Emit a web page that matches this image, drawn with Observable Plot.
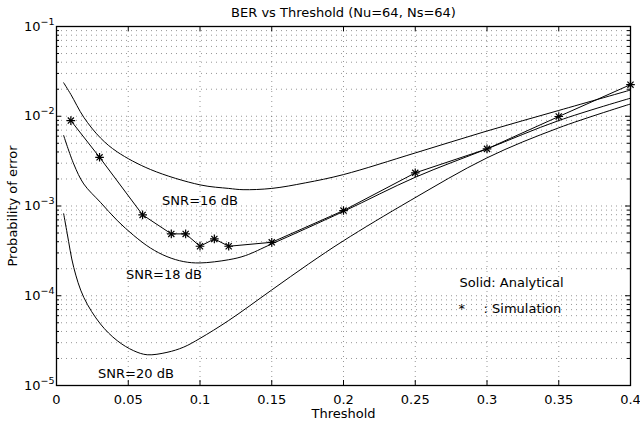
<!DOCTYPE html>
<html><head><meta charset="utf-8">
<script src="https://cdn.jsdelivr.net/npm/d3@7"></script>
<script src="https://cdn.jsdelivr.net/npm/@observablehq/plot@0.6"></script>
<style>body{margin:0;background:#fff;} svg{display:block;}</style>
</head><body><div id="chart"></div>
<script>
const title = "BER vs Threshold (Nu=64, Ns=64)";
const xLabel = "Threshold";
const yLabel = "Probability of error";
const xTicks = [0, 0.05, 0.1, 0.15, 0.2, 0.25, 0.3, 0.35, 0.4];
const yTicks = [1e-5, 1e-4, 1e-3, 1e-2, 1e-1];

// Analytical curves (solid)
const x16 = [0.005, 0.01, 0.019, 0.0306, 0.0423, 0.0655, 0.1, 0.12, 0.13, 0.15, 0.1734, 0.2, 0.25, 0.3, 0.35, 0.4];
const ber16 = [2.36e-2, 1.75e-2, 9.75e-3, 5.74e-3, 4.01e-3, 2.55e-3, 1.72e-3, 1.57e-3, 1.52e-3, 1.57e-3, 1.81e-3, 2.24e-3, 3.9e-3, 6.85e-3, 1.16e-2, 1.96e-2];
const x18 = [0.005, 0.012, 0.019, 0.0306, 0.0423, 0.0538, 0.0655, 0.077, 0.0887, 0.1, 0.12, 0.1316, 0.15, 0.2, 0.25, 0.3, 0.35, 0.4];
const ber18 = [6.1e-3, 2.94e-3, 1.76e-3, 1.1e-3, 6.9e-4, 4.7e-4, 3.4e-4, 2.73e-4, 2.4e-4, 2.32e-4, 2.52e-4, 2.8e-4, 3.78e-4, 8.7e-4, 2.09e-3, 4.33e-3, 8.95e-3, 1.59e-2];
const x20 = [0.005, 0.0075, 0.012, 0.019, 0.0306, 0.0423, 0.0538, 0.0632, 0.077, 0.0887, 0.1, 0.12, 0.15, 0.1757, 0.2, 0.2465, 0.3, 0.35, 0.4];
const ber20 = [8.2e-4, 4.9e-4, 2.07e-4, 9.6e-5, 4.85e-5, 3.16e-5, 2.44e-5, 2.2e-5, 2.34e-5, 2.68e-5, 3.35e-5, 5.3e-5, 1.16e-4, 2.26e-4, 4.1e-4, 1.15e-3, 3.44e-3, 7.43e-3, 1.37e-2];

// Simulation (asterisks)
const simX = [0.01, 0.03, 0.06, 0.08, 0.09, 0.10, 0.11, 0.12, 0.15, 0.20, 0.25, 0.30, 0.35, 0.40];
const simBer = [8.95e-3, 3.49e-3, 7.96e-4, 4.89e-4, 4.89e-4, 3.56e-4, 4.3e-4, 3.56e-4, 3.94e-4, 8.9e-4, 2.34e-3, 4.33e-3, 9.93e-3, 2.25e-2];

// Annotations
const annoText = ["SNR=16 dB", "SNR=18 dB", "SNR=20 dB", "Solid: Analytical", "*", ": Simulation"];
const annoX = [0.0736, 0.0485, 0.029, 0.2809, 0.2802, 0.2976];
const annoY = [1.15e-3, 1.71e-4, 1.36e-5, 1.41e-4, 7.13e-5, 7.13e-5];

const W = 640, H = 421, mL = 56, mR = 10, mT = 26, mB = 36;
const innerW = W - mL - mR, innerH = H - mT - mB;

const analytical = [[x16, ber16, "16"], [x18, ber18, "18"], [x20, ber20, "20"]]
  .flatMap(([xs, ys, s]) => xs.map((x, i) => ({x, y: ys[i], snr: s})));
const sim = simX.map((x, i) => ({x, y: simBer[i]}));
const anno = annoText.map((t, i) => ({t, x: annoX[i], y: annoY[i]}));

const yDomain = [1e-5, 1e-1];
const yAll = d3.scaleLog().domain(yDomain).ticks();
const yGrid = yAll.filter(v => v > yDomain[0] * 1.001 && v < yDomain[1] * 0.999);
const yMinor = yAll.filter(v => !yTicks.some(t => Math.abs(t - v) / t < 1e-6));
const xGrid = xTicks.slice(1, -1);

const grid = {stroke: "#444", strokeWidth: 0.8, strokeDasharray: "1,4", strokeOpacity: 0.7};

const chart = Plot.plot({
  width: W, height: H,
  marginLeft: mL, marginRight: mR, marginTop: mT, marginBottom: mB,
  style: {fontFamily: "DejaVu Sans", fontSize: "13px", background: "#fff", color: "#000"},
  x: {domain: [0, 0.4]},
  y: {type: "log", domain: yDomain},
  marks: [
    Plot.ruleY(yGrid, {y: d => d, ...grid}),
    Plot.ruleX(xGrid, {x: d => d, ...grid}),
    // inward tick marks
    Plot.ruleX(xTicks, {x: d => d, insetTop: innerH - 5, stroke: "#000"}),
    Plot.ruleX(xTicks, {x: d => d, insetBottom: innerH - 5, stroke: "#000"}),
    Plot.ruleY(yTicks, {y: d => d, insetRight: innerW - 5, stroke: "#000"}),
    Plot.ruleY(yTicks, {y: d => d, insetLeft: innerW - 5, stroke: "#000"}),
    Plot.ruleY(yMinor, {y: d => d, insetRight: innerW - 3, stroke: "#000"}),
    Plot.ruleY(yMinor, {y: d => d, insetLeft: innerW - 3, stroke: "#000"}),
    Plot.frame({stroke: "#000", strokeWidth: 1.3}),
    Plot.line(analytical, {x: "x", y: "y", z: "snr", stroke: "#000", strokeWidth: 1, curve: "catmull-rom"}),
    Plot.line(sim, {x: "x", y: "y", stroke: "#000", strokeWidth: 1}),
    Plot.dot(sim, {x: "x", y: "y", symbol: "plus", r: 2.9, stroke: "#000", strokeWidth: 1.2}),
    Plot.dot(sim, {x: "x", y: "y", symbol: "times", r: 2.9, stroke: "#000", strokeWidth: 1.2}),
    Plot.text(anno, {x: "x", y: "y", text: "t", textAnchor: "start", lineAnchor: "middle", fill: "#000"}),
    Plot.text([title], {frameAnchor: "top", lineAnchor: "middle", dy: -13.7, fill: "#000"}),
    Plot.text([xLabel], {frameAnchor: "bottom", lineAnchor: "middle", dy: 28.5, fill: "#000"}),
    Plot.text([yLabel], {frameAnchor: "left", rotate: -90, textAnchor: "middle", lineAnchor: "middle", dx: -43.5, fill: "#000"}),
    Plot.axisX({ticks: xTicks, tickSize: 0, tickPadding: 9, tickFormat: d3.format("~g"), label: null}),
    Plot.axisY({ticks: yTicks, tickSize: 0, tickPadding: 2, tickFormat: d => "10^" + Math.round(Math.log10(d)), label: null})
  ]
});
document.getElementById("chart").appendChild(chart);

// render y tick labels as 10 with superscript exponent
d3.select(chart).selectAll('g[aria-label="y-axis tick label"] text').each(function() {
  const s = this.textContent;
  const m = s.match(/^10\^(-?\d+)$/);
  if (!m) return;
  const t = d3.select(this);
  t.text(null);
  t.append("tspan").text("10");
  t.append("tspan").attr("dy", "-6").attr("font-size", "9.5px").text(m[1].replace("-", "\u2212"));
});
</script>
</body></html>
